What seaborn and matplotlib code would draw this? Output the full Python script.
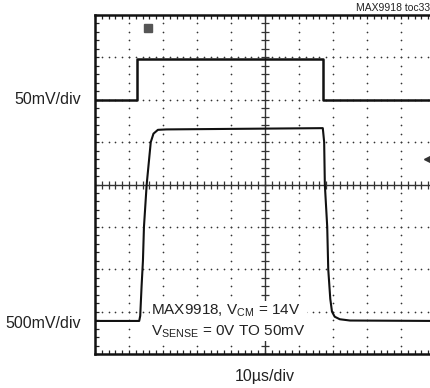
import matplotlib
matplotlib.use("Agg")
import matplotlib.pyplot as plt
import numpy as np
import pandas as pd
import seaborn as sns

# scope traces, in divisions (x: 0-10 time div, y: 0-8 voltage div)
top_t = [0.0, 1.23, 1.23, 6.70, 6.70, 10.0]
top_v = [6.0, 6.0, 6.97, 6.97, 6.0, 6.0]

bot_t = [0.0, 1.30, 1.33, 1.37, 1.41, 1.44, 1.52, 1.64, 1.72, 1.85, 2.1,
         6.70, 6.74, 6.76, 6.83, 6.86, 6.92, 6.97, 7.05, 7.2, 7.5, 10.0]
bot_v = [0.78, 0.78, 0.9, 1.6, 2.2, 3.0, 4.0, 5.0, 5.2, 5.29, 5.30,
         5.33, 5.0, 4.0, 3.0, 2.0, 1.3, 1.0, 0.88, 0.82, 0.79, 0.78]

ch1_label = "50mV/div"
ch2_label = "500mV/div"
time_label = "10\u00b5s/div"
note_lines = ["MAX9918, V$_{\\mathrm{CM}}$ = 14V", "V$_{\\mathrm{SENSE}}$ = 0V TO 50mV"]
tag = "MAX9918 toc33"

sns.set_theme(style="white")
plt.rcParams['font.family'] = ['Liberation Sans', 'DejaVu Sans']
plt.rcParams['mathtext.fontset'] = 'custom'
plt.rcParams['mathtext.rm'] = 'Liberation Sans'

fig = plt.figure(figsize=(4.3, 3.88), dpi=100)
ax = fig.add_axes([95 / 430, 34 / 388, 340 / 430, 339 / 388])
ax.set_xlim(0, 10)
ax.set_ylim(0, 8)

# dotted graticule
sub = np.arange(0, 10.01, 0.2)
for gy in range(1, 8):
    ax.scatter(sub, np.full_like(sub, gy), s=1.5, color="#333333", lw=0, zorder=1)
subv = np.arange(0, 8.01, 0.2)
for gx in range(1, 10):
    ax.scatter(np.full_like(subv, gx), subv, s=1.5, color="#333333", lw=0, zorder=1)

# center crosshair with ticks
ax.axhline(4, color="#333333", lw=1.0, zorder=2)
ax.axvline(5, color="#333333", lw=1.0, zorder=2)
ax.plot(sub, np.full_like(sub, 4), ls="none", marker="|", ms=6, mew=0.9, color="#333333", zorder=2)
ax.plot(np.full_like(subv, 5), subv, ls="none", marker="_", ms=6, mew=0.9, color="#333333", zorder=2)

# frame ticks
ax.set_xticks(range(0, 11))
ax.set_xticks(sub, minor=True)
ax.set_yticks(range(0, 9))
ax.set_yticks(subv, minor=True)
ax.tick_params(which="both", direction="in", top=True, bottom=True, left=True, right=True,
               labelbottom=False, labelleft=False, length=3, width=0.9, color="#222222")
for s in ax.spines.values():
    s.set_linewidth(1.8)
    s.set_color("#111111")

top = pd.DataFrame({"t": top_t, "v": top_v})
bot = pd.DataFrame({"t": bot_t, "v": bot_v})
sns.lineplot(data=top, x="t", y="v", sort=False, estimator=None, color="#111111", lw=1.8, ax=ax, zorder=3)
sns.lineplot(data=bot, x="t", y="v", sort=False, estimator=None, color="#111111", lw=1.5, ax=ax, zorder=3)
ax.set_xlabel("")
ax.set_ylabel("")

# scope markers
ax.plot([1.56], [7.69], marker="s", ms=6, color="#555555", zorder=4)
ax.plot([9.79], [4.6], marker="<", ms=6, color="#333333", zorder=4, clip_on=False)

ax.text(1.65, 0.78, note_lines[0] + "\n" + note_lines[1], fontsize=11, color="#222222",
        va="center", ha="left", linespacing=1.35,
        bbox=dict(facecolor="white", edgecolor="none", pad=1), zorder=5)

fig.text(48 / 430, 1 - 100 / 388, ch1_label, fontsize=11.5, ha="center", va="center", color="#222222")
fig.text(43 / 430, 1 - 323 / 388, ch2_label, fontsize=11.5, ha="center", va="center", color="#222222")
fig.text(265 / 430, 1 - 377 / 388, time_label, fontsize=11.5, ha="center", va="center", color="#222222")
fig.text(1.0, 1 - 8 / 388, tag, fontsize=7.5, ha="right", va="center", color="#222222")

fig.savefig("out.png", dpi=100)
